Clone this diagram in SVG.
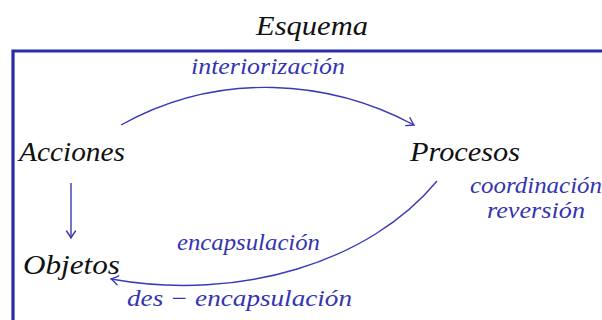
<svg xmlns="http://www.w3.org/2000/svg" width="602" height="320" viewBox="0 0 602 320">
<style>
.t{fill:#111}
.l{fill:#3535b0}
.c{fill:none;stroke:#3a3ab8;stroke-width:1.4}
</style>
<defs>
<marker id="ah" viewBox="-10 -6 12 12" refX="0" refY="0" markerWidth="12" markerHeight="12" markerUnits="userSpaceOnUse" orient="auto">
<path d="M-7,-4.5 Q-2,-1 0,0 Q-2,1 -7,4.5" fill="none" stroke="#3a3ab8" stroke-width="1.4" stroke-linecap="round"/>
</marker>
</defs>
<rect width="602" height="320" fill="#ffffff"/>
<g font-family="Liberation Serif, serif" font-style="italic">
<text class="t" x="256" y="35" font-size="28" textLength="112" lengthAdjust="spacingAndGlyphs">Esquema</text>
</g>
<path d="M13,322 V51 H604" fill="none" stroke="#2b2baa" stroke-width="3.2"/>
<g id="connectors">
<path class="c" d="M121,125 C220,70 330,80 414,125" marker-end="url(#ah)"/>
<path class="c" d="M71,183 V238" marker-end="url(#ah)"/>
<path class="c" d="M437,181 C370,262 240,302 111,279" marker-end="url(#ah)"/>
</g>
<g font-family="Liberation Serif, serif" font-style="italic">
<g id="node-acciones"><text class="t" x="19" y="161" font-size="28" textLength="106" lengthAdjust="spacingAndGlyphs">Acciones</text></g>
<g id="node-procesos"><text class="t" x="410" y="161" font-size="28" textLength="110" lengthAdjust="spacingAndGlyphs">Procesos</text></g>
<g id="node-objetos"><text class="t" x="23" y="274" font-size="28" textLength="97" lengthAdjust="spacingAndGlyphs">Objetos</text></g>
<g id="labels">
<text class="l" x="191" y="74" font-size="23" textLength="154" lengthAdjust="spacingAndGlyphs">interiorización</text>
<text class="l" x="470" y="193" font-size="23" textLength="132" lengthAdjust="spacingAndGlyphs">coordinación</text>
<text class="l" x="487" y="218" font-size="23" textLength="98" lengthAdjust="spacingAndGlyphs">reversión</text>
<text class="l" x="177" y="250" font-size="23" textLength="143" lengthAdjust="spacingAndGlyphs">encapsulación</text>
<text class="l" x="127" y="306" font-size="23" textLength="225" lengthAdjust="spacingAndGlyphs">des − encapsulación</text>
</g>
</g>
</svg>
